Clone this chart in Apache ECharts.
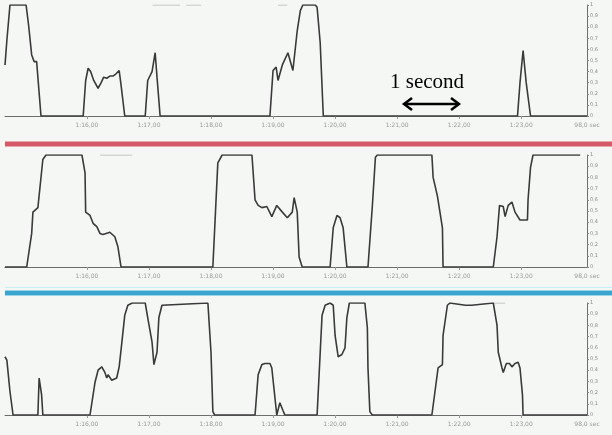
<!DOCTYPE html>
<html><head><meta charset="utf-8">
<script src="https://cdn.jsdelivr.net/npm/echarts@6/dist/echarts.min.js"></script>
<style>html,body{margin:0;padding:0;background:#f4f7f4}#c{width:612px;height:435px}</style>
</head><body><div id="c"></div>
<script>
// time axis (seconds) and tick labels
const xMin = 74.68, xMax = 84.06;
const tickValues = [76, 77, 78, 79, 80, 81, 82, 83];
const tickLabels = ["1:16,00", "1:17,00", "1:18,00", "1:19,00", "1:20,00", "1:21,00", "1:22,00", "1:23,00"];
const endLabel = "98,0 sec";
const yTickStep = 0.1;

// panel 1 trace [time s, value]
const trace1 = [[74.68,0.46],[74.71,0.68],[74.76,1],[75.02,1],[75.06,0.82],[75.11,0.55],[75.15,0.49],[75.19,0.49],[75.26,0],
[75.94,0],[75.98,0.32],[76.02,0.43],[76.06,0.40],[76.11,0.32],[76.18,0.25],[76.23,0.30],[76.27,0.35],[76.32,0.34],[76.37,0.36],[76.42,0.36],[76.47,0.38],[76.52,0.41],[76.55,0.28],[76.61,0],
[76.94,0],[76.98,0.32],[77.05,0.40],[77.10,0.57],[77.13,0.35],[77.18,0],
[78.95,0],[79.00,0.41],[79.05,0.44],[79.08,0.32],[79.15,0.46],[79.24,0.57],[79.32,0.41],[79.39,0.77],[79.44,0.95],[79.48,1],[79.68,1],[79.71,0.98],[79.76,0.66],[79.81,0],
[82.94,0],[82.98,0.30],[83.03,0.59],[83.08,0.30],[83.15,0],[84.06,0]];
const faint1 = [[77.06,1],[77.50,1],null,[77.60,1],[77.84,1],null,[79.08,1],[79.23,1]];

// panel 2 trace
const trace2 = [[74.68,0],[75.03,0],[75.11,0.30],[75.13,0.49],[75.21,0.53],[75.24,0.54],[75.29,0.96],[75.34,1],[75.92,1],[75.97,0.84],[75.98,0.49],[76.05,0.46],[76.10,0.39],[76.16,0.36],[76.21,0.30],[76.26,0.29],[76.37,0.31],[76.45,0.27],[76.50,0.18],[76.55,0],
[78.03,0],[78.11,0.93],[78.18,1],[78.66,1],[78.71,0.60],[78.76,0.55],[78.82,0.53],[78.90,0.54],[78.98,0.45],[79.06,0.55],[79.15,0.49],[79.23,0.44],[79.31,0.49],[79.34,0.62],[79.39,0.49],[79.42,0.09],[79.47,0],
[79.92,0],[79.97,0.35],[80.03,0.46],[80.08,0.44],[80.13,0.35],[80.19,0],
[80.53,0],[80.60,0.54],[80.65,0.98],[80.68,1],[81.56,1],[81.58,0.80],[81.65,0.63],[81.69,0.49],[81.73,0.35],[81.74,0],
[82.55,0],[82.61,0.27],[82.65,0.55],[82.71,0.54],[82.74,0.45],[82.79,0.55],[82.85,0.58],[82.90,0.49],[82.98,0.42],[83.10,0.42],[83.11,0.60],[83.15,0.89],[83.19,1],[83.95,1]];
const faint2 = [[76.21,1],[76.73,1]];

// panel 3 trace
const trace3 = [[74.68,0.52],[74.71,0.49],[74.76,0.21],[74.81,0],[75.21,0],[75.23,0.33],[75.25,0.33],[75.27,0.18],[75.29,0],
[76.05,0],[76.13,0.29],[76.18,0.40],[76.24,0.43],[76.29,0.38],[76.32,0.33],[76.34,0.36],[76.40,0.31],[76.48,0.33],[76.52,0.43],[76.56,0.63],[76.61,0.89],[76.66,0.98],[76.73,1],[76.94,1],[76.98,0.87],[77.05,0.65],[77.08,0.45],[77.13,0.56],[77.16,0.87],[77.21,0.98],[77.95,1],[78.00,0.56],[78.03,0.03],[78.06,0],
[78.71,0],[78.76,0.36],[78.82,0.45],[78.87,0.46],[78.90,0.45],[78.95,0.46],[78.98,0.42],[79.02,0.21],[79.06,0],[79.11,0.11],[79.16,0.04],[79.19,0],
[79.71,0],[79.79,0.89],[79.84,0.98],[79.92,1],[79.97,0.98],[80.00,0.71],[80.05,0.52],[80.11,0.54],[80.16,0.60],[80.19,0.87],[80.23,1],[80.48,1],[80.52,0.78],[80.53,0.42],[80.56,0.03],[80.60,0],
[81.56,0],[81.61,0.21],[81.66,0.42],[81.73,0.45],[81.74,0.71],[81.81,0.98],[81.85,1],[82.10,0.98],[82.20,0.98],[82.55,1],[82.61,0.80],[82.63,0.56],[82.69,0.42],[82.71,0.38],[82.76,0.46],[82.81,0.46],[82.85,0.43],[82.90,0.46],[82.95,0.47],[82.98,0.42],[83.02,0.18],[83.03,0],[84.06,0]];
const faint3 = [[82.55,1],[82.74,1]];

const traces = [trace1, trace2, trace3];
const faints = [faint1, faint2, faint3];

const grids = [
  {left: 5, right: 25, top: 5, height: 111},
  {left: 5, right: 25, top: 155, height: 112},
  {left: 5, right: 25, top: 303, height: 112}
];

function xLabel(v) {
  if (v >= xMax - 0.001) return endLabel;
  const i = tickValues.findIndex(t => Math.abs(t - v) < 0.001);
  return i >= 0 ? tickLabels[i] : '';
}
function yLabel(v) {
  if (Math.abs(v) < 1e-6) return '0';
  if (Math.abs(v - 1) < 1e-6) return '1';
  return v.toFixed(1).replace('.', ',');
}

const xAxes = grids.map((g, i) => ({
  type: 'value', gridIndex: i, min: xMin, max: xMax,
  axisLine: {show: true, onZero: false, lineStyle: {color: '#6e6e6e', width: 1}},
  splitLine: {show: false},
  axisTick: {show: true, customValues: tickValues, length: 3, lineStyle: {color: '#9a9a9a'}},
  axisLabel: {customValues: tickValues.concat([xMax]), formatter: xLabel, fontSize: 6, color: '#9a9a9a', margin: 6, fontFamily: 'DejaVu Sans'}
}));
const yAxes = grids.map((g, i) => ({
  type: 'value', gridIndex: i, position: 'right', min: 0, max: 1, interval: yTickStep,
  axisLine: {show: true, lineStyle: {color: '#6e6e6e', width: 1}},
  axisTick: {show: true, length: 2, lineStyle: {color: '#888'}},
  splitLine: {show: false},
  axisLabel: {formatter: yLabel, fontSize: 5, color: '#8a8a8a', margin: 3, fontFamily: 'DejaVu Sans'}
}));

const series = [];
traces.forEach((d, i) => series.push({
  type: 'line', xAxisIndex: i, yAxisIndex: i, data: d, symbol: 'none',
  lineStyle: {color: '#3a3a3a', width: 1.6}, z: 3
}));
faints.forEach((d, i) => series.push({
  type: 'line', xAxisIndex: i, yAxisIndex: i, data: d, symbol: 'none', connectNulls: false,
  lineStyle: {color: '#b4b8b4', width: 1}, z: 2
}));

const chart = echarts.init(document.getElementById('c'), null, {renderer: 'canvas'});
chart.setOption({
  backgroundColor: '#f4f7f4',
  animation: false,
  grid: grids,
  xAxis: xAxes,
  yAxis: yAxes,
  series: series,
  graphic: [
    {type: 'rect', shape: {x: 5, y: 141, width: 607, height: 6}, style: {fill: '#eaa8b0'}, silent: true},
    {type: 'rect', shape: {x: 5, y: 142, width: 607, height: 4}, style: {fill: '#d45a68'}, silent: true},
    {type: 'rect', shape: {x: 5, y: 287, width: 607, height: 1}, style: {fill: '#c8eef6'}, silent: true},
    {type: 'rect', shape: {x: 5, y: 290, width: 607, height: 6}, style: {fill: '#9ed4ea'}, silent: true},
    {type: 'rect', shape: {x: 5, y: 291, width: 607, height: 4}, style: {fill: '#3aa6d0'}, silent: true},
    {type: 'text', left: 390, top: 72, style: {text: '1 second', font: '21px "Liberation Serif"', fill: '#000'}, silent: true},
    {type: 'polyline', shape: {points: [[404, 104], [459, 104]]}, style: {stroke: '#000', lineWidth: 2.5, fill: null}, silent: true},
    {type: 'polyline', shape: {points: [[412, 98], [404, 104], [412, 110]]}, style: {stroke: '#000', lineWidth: 2.5, fill: null}, silent: true},
    {type: 'polyline', shape: {points: [[451, 98], [459, 104], [451, 110]]}, style: {stroke: '#000', lineWidth: 2.5, fill: null}, silent: true}
  ]
});
</script>
</body></html>
